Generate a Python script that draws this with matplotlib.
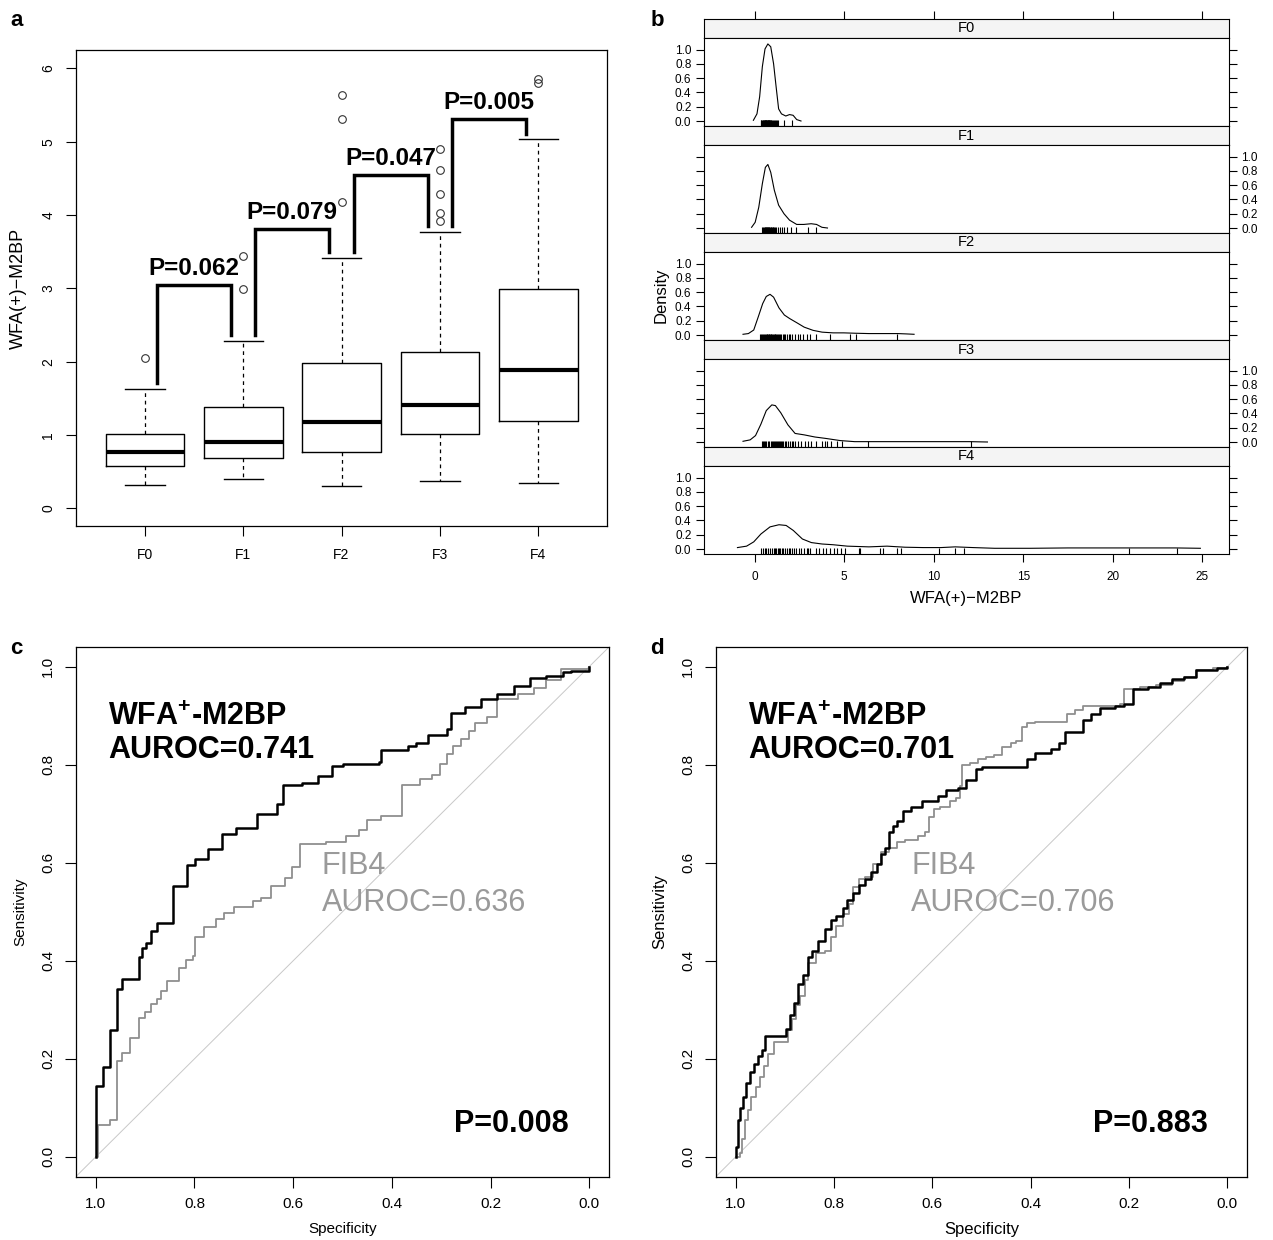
import matplotlib
matplotlib.use("Agg")
import matplotlib.pyplot as plt

plt.rcParams['font.family'] = ['Liberation Sans', 'DejaVu Sans']
plt.rcParams['mathtext.fontset'] = 'custom'
plt.rcParams['mathtext.rm'] = 'Liberation Sans'
plt.rcParams['mathtext.bf'] = 'Liberation Sans:bold'

# panel a: box summaries
groups = ['F0', 'F1', 'F2', 'F3', 'F4']
whislo = [0.32, 0.40, 0.30, 0.38, 0.35]
q1 = [0.58, 0.69, 0.77, 1.01, 1.19]
med = [0.77, 0.91, 1.18, 1.41, 1.89]
q3 = [1.02, 1.38, 1.98, 2.13, 2.99]
whishi = [1.63, 2.28, 3.42, 3.77, 5.03]
fliers = [[2.05], [2.99, 3.44], [4.18, 5.31, 5.63],
          [3.92, 4.03, 4.28, 4.62, 4.90], [5.80, 5.86]]
pair_p = ['P=0.062', 'P=0.079', 'P=0.047', 'P=0.005']
bracket_top = [3.05, 3.81, 4.55, 5.31]

# panel b: density curves and rug values
dens_x = [
    [-0.08, 0.12, 0.27, 0.42, 0.57, 0.73, 0.89, 1.05, 1.19, 1.33, 1.49, 1.73, 1.94, 2.14, 2.34, 2.58],
    [-0.18, 0.02, 0.22, 0.42, 0.59, 0.73, 0.89, 1.09, 1.33, 1.63, 1.94, 2.34, 2.74, 3.15, 3.45, 3.75, 4.06],
    [-0.66, -0.36, -0.06, 0.20, 0.44, 0.64, 0.85, 1.05, 1.35, 1.65, 1.95, 2.36, 2.76, 3.26, 3.76, 4.37,
     4.97, 5.58, 6.38, 7.19, 7.99, 8.49, 8.9],
    [-0.66, -0.26, 0.04, 0.34, 0.64, 0.95, 1.15, 1.45, 1.85, 2.25, 2.76, 3.36, 3.97, 4.77, 5.58, 6.38,
     8.39, 10.4, 12.0, 13.0],
    [-0.97, -0.46, -0.06, 0.34, 0.85, 1.35, 1.75, 2.15, 2.66, 3.16, 3.76, 4.37, 5.17, 6.38, 7.39, 8.39,
     9.4, 10.4, 11.2, 12.2, 13.4, 15.4, 17.5, 19.5, 21.5, 23.5, 24.9],
]
dens_y = [
    [0.01, 0.10, 0.34, 0.76, 1.01, 1.08, 1.04, 0.80, 0.48, 0.17, 0.10, 0.07, 0.09, 0.08, 0.02, 0.0],
    [0.01, 0.08, 0.29, 0.62, 0.85, 0.89, 0.78, 0.53, 0.32, 0.20, 0.11, 0.05, 0.05, 0.06, 0.05, 0.01, 0.0],
    [0.01, 0.02, 0.07, 0.26, 0.44, 0.54, 0.57, 0.53, 0.38, 0.28, 0.23, 0.17, 0.11, 0.065, 0.04, 0.03,
     0.03, 0.025, 0.02, 0.02, 0.02, 0.015, 0.01],
    [0.01, 0.03, 0.09, 0.25, 0.44, 0.52, 0.51, 0.41, 0.24, 0.12, 0.10, 0.07, 0.05, 0.02, 0.005, 0.005,
     0.005, 0.005, 0.005, 0.0],
    [0.02, 0.04, 0.10, 0.21, 0.31, 0.34, 0.33, 0.26, 0.14, 0.09, 0.07, 0.06, 0.04, 0.03, 0.04, 0.025,
     0.02, 0.02, 0.03, 0.02, 0.01, 0.01, 0.015, 0.015, 0.015, 0.015, 0.01],
]
rug = [
    [0.32, 0.36, 0.40, 0.44, 0.47, 0.50, 0.53, 0.55, 0.57, 0.59, 0.61, 0.63, 0.65, 0.67, 0.69, 0.71,
     0.73, 0.75, 0.77, 0.79, 0.81, 0.84, 0.87, 0.90, 0.93, 0.97, 1.01, 1.05, 1.10, 1.16, 1.22, 1.30,
     1.62, 2.05],
    [0.40, 0.45, 0.50, 0.55, 0.58, 0.62, 0.65, 0.68, 0.70, 0.73, 0.76, 0.79, 0.82, 0.85, 0.88, 0.91,
     0.95, 0.99, 1.03, 1.08, 1.13, 1.20, 1.27, 1.38, 1.50, 1.65, 1.82, 2.02, 2.28, 2.99, 3.44],
    [0.30, 0.36, 0.42, 0.48, 0.53, 0.58, 0.62, 0.66, 0.70, 0.74, 0.77, 0.80, 0.84, 0.88, 0.92, 0.96,
     1.00, 1.05, 1.10, 1.14, 1.18, 1.23, 1.28, 1.34, 1.40, 1.47, 1.55, 1.62, 1.70, 1.80, 1.90, 1.98,
     2.10, 2.25, 2.40, 2.55, 2.70, 2.90, 3.10, 3.42, 4.18, 5.31, 5.63, 7.95],
    [0.38, 0.45, 0.52, 0.58, 0.65, 0.72, 0.80, 0.88, 0.95, 1.01, 1.06, 1.12, 1.18, 1.24, 1.30, 1.36,
     1.41, 1.47, 1.53, 1.60, 1.68, 1.76, 1.85, 1.95, 2.05, 2.13, 2.25, 2.40, 2.60, 2.80, 3.00, 3.15,
     3.40, 3.77, 3.92, 4.03, 4.28, 4.62, 4.90, 6.34, 12.1],
    [0.35, 0.45, 0.55, 0.65, 0.75, 0.85, 0.95, 1.05, 1.12, 1.19, 1.27, 1.35, 1.43, 1.52, 1.60, 1.70,
     1.79, 1.89, 1.98, 2.08, 2.20, 2.32, 2.45, 2.60, 2.75, 2.90, 2.99, 3.10, 3.40, 3.60, 3.80, 4.00,
     4.20, 4.40, 4.60, 4.80, 5.03, 5.80, 5.86, 6.98, 7.19, 7.93, 8.19, 10.3, 11.17, 11.7, 20.9, 23.6],
]

# panel c: ROC (specificity, sensitivity)
c_wfa_spec = [1.0, 1.0, 0.986, 0.971, 0.956, 0.946, 0.913, 0.907, 0.898, 0.888, 0.876, 0.843, 0.816,
              0.798, 0.773, 0.744, 0.715, 0.674, 0.632, 0.620, 0.583, 0.550, 0.521, 0.500, 0.426, 0.421,
              0.368, 0.351, 0.326, 0.289, 0.281, 0.252, 0.219, 0.186, 0.153, 0.120, 0.087, 0.054, 0.037, 0.0]
c_wfa_sens = [0.0, 0.144, 0.184, 0.259, 0.342, 0.362, 0.408, 0.426, 0.437, 0.461, 0.477, 0.552, 0.596,
              0.608, 0.628, 0.659, 0.671, 0.699, 0.719, 0.758, 0.762, 0.776, 0.798, 0.802, 0.806, 0.830,
              0.838, 0.845, 0.861, 0.873, 0.905, 0.917, 0.933, 0.944, 0.960, 0.976, 0.980, 0.988, 0.992, 1.0]
c_fib_spec = [1.0, 0.996, 0.971, 0.956, 0.946, 0.930, 0.913, 0.901, 0.888, 0.876, 0.868, 0.855, 0.831,
              0.818, 0.802, 0.798, 0.781, 0.756, 0.740, 0.719, 0.682, 0.665, 0.645, 0.616, 0.603, 0.587,
              0.533, 0.492, 0.467, 0.450, 0.421, 0.380, 0.343, 0.318, 0.302, 0.289, 0.277, 0.260, 0.244,
              0.231, 0.207, 0.186, 0.145, 0.112, 0.087, 0.058, 0.0]
c_fib_sens = [0.0, 0.065, 0.075, 0.196, 0.212, 0.243, 0.283, 0.295, 0.311, 0.322, 0.338, 0.358, 0.386,
              0.402, 0.410, 0.449, 0.469, 0.485, 0.497, 0.509, 0.521, 0.529, 0.552, 0.568, 0.592, 0.639,
              0.643, 0.655, 0.667, 0.687, 0.695, 0.758, 0.770, 0.778, 0.802, 0.822, 0.838, 0.853, 0.869,
              0.885, 0.897, 0.933, 0.944, 0.956, 0.972, 0.996, 1.0]

# panel d
d_wfa_spec = [1.0, 1.0, 0.996, 0.992, 0.985, 0.980, 0.971, 0.963, 0.955, 0.947, 0.941, 0.901, 0.897,
              0.889, 0.881, 0.873, 0.864, 0.852, 0.844, 0.832, 0.819, 0.807, 0.795, 0.782, 0.774, 0.762,
              0.749, 0.737, 0.725, 0.712, 0.704, 0.696, 0.688, 0.680, 0.671, 0.659, 0.643, 0.622, 0.589,
              0.573, 0.548, 0.532, 0.511, 0.499, 0.417, 0.408, 0.392, 0.359, 0.343, 0.330, 0.310, 0.293,
              0.277, 0.260, 0.228, 0.211, 0.191, 0.162, 0.137, 0.113, 0.088, 0.063, 0.022, 0.0]
d_wfa_sens = [0.0, 0.020, 0.075, 0.099, 0.123, 0.151, 0.174, 0.190, 0.206, 0.218, 0.246, 0.246, 0.261,
              0.289, 0.313, 0.353, 0.372, 0.408, 0.420, 0.440, 0.464, 0.483, 0.491, 0.507, 0.523, 0.539,
              0.555, 0.567, 0.582, 0.598, 0.618, 0.630, 0.662, 0.674, 0.685, 0.705, 0.713, 0.725, 0.737,
              0.749, 0.753, 0.769, 0.792, 0.796, 0.796, 0.812, 0.824, 0.832, 0.844, 0.866, 0.866, 0.891,
              0.903, 0.915, 0.919, 0.923, 0.955, 0.959, 0.967, 0.975, 0.979, 0.994, 0.998, 1.0]
d_fib_spec = [1.0, 0.992, 0.988, 0.982, 0.975, 0.969, 0.959, 0.951, 0.942, 0.934, 0.922, 0.893, 0.885,
              0.877, 0.869, 0.860, 0.852, 0.836, 0.819, 0.807, 0.795, 0.782, 0.770, 0.762, 0.749, 0.737,
              0.721, 0.704, 0.688, 0.671, 0.655, 0.630, 0.614, 0.606, 0.597, 0.585, 0.565, 0.552, 0.544,
              0.540, 0.523, 0.507, 0.491, 0.474, 0.458, 0.441, 0.429, 0.417, 0.408, 0.392, 0.334, 0.326,
              0.310, 0.293, 0.252, 0.219, 0.211, 0.178, 0.145, 0.113, 0.088, 0.063, 0.030, 0.0]
d_fib_sens = [0.0, 0.008, 0.036, 0.075, 0.095, 0.123, 0.143, 0.162, 0.186, 0.210, 0.234, 0.258, 0.281,
              0.309, 0.329, 0.361, 0.396, 0.416, 0.420, 0.448, 0.471, 0.495, 0.515, 0.551, 0.567, 0.571,
              0.598, 0.622, 0.630, 0.642, 0.646, 0.654, 0.662, 0.693, 0.709, 0.713, 0.725, 0.733, 0.757,
              0.800, 0.804, 0.812, 0.816, 0.820, 0.836, 0.844, 0.848, 0.876, 0.884, 0.887, 0.887, 0.903,
              0.911, 0.919, 0.919, 0.923, 0.955, 0.959, 0.963, 0.971, 0.979, 0.994, 0.998, 1.0]

W, H = 1273, 1240
fig = plt.figure(figsize=(W / 100, H / 100), dpi=100)


def rect(l, t, r, b):
    return [l / W, 1 - b / H, (r - l) / W, (b - t) / H]


def letter(x, y, s):
    fig.text(x / W, 1 - y / H, s, fontsize=16, fontweight='bold', va='center', ha='left')


# ---------------- a ----------------
ax = fig.add_axes(rect(76, 50, 607, 526))
stats = []
for i, g in enumerate(groups):
    stats.append(dict(label=g, whislo=whislo[i], q1=q1[i], med=med[i], q3=q3[i],
                      whishi=whishi[i], fliers=fliers[i]))
ax.bxp(stats, positions=range(1, 6), widths=0.8, capwidths=0.4,
       boxprops=dict(lw=1.0, color='k'),
       medianprops=dict(lw=3, color='k'),
       whiskerprops=dict(lw=0.9, ls=(0, (3, 3)), color='k'),
       capprops=dict(lw=1.0, color='k'),
       flierprops=dict(marker='o', mfc='none', mec='#333333', ms=5.5, mew=0.8))
for i in range(4):
    lx, rx = i + 1 + 0.125, i + 2 - 0.125
    top = bracket_top[i]
    ax.plot([lx, lx, rx, rx], [whishi[i] + 0.08, top, top, whishi[i + 1] + 0.08],
            color='k', lw=2.5, solid_joinstyle='miter')
    ax.text(i + 1.5, top + 0.13, pair_p[i], ha='center', va='baseline',
            fontsize=17.5, fontweight='bold')
ax.set_xlim(0.3, 5.7)
ax.set_ylim(-0.24, 6.25)
ax.set_yticks(range(7))
ax.set_yticklabels([str(v) for v in range(7)], rotation=90, va='center')
ax.tick_params(axis='both', length=7, width=0.8, labelsize=10)
ax.tick_params(axis='x', pad=9)
ax.tick_params(axis='y', pad=8)
ax.set_ylabel('WFA(+)\u2212M2BP', fontsize=13, labelpad=10)
for s in ax.spines.values():
    s.set_linewidth(0.9)
letter(10, 20, 'a')

# ---------------- b ----------------
left_b, right_b, top_b, bottom_b = 704, 1229, 19, 554
strip_h = 19
block = (bottom_b - top_b) / 5
xlim_b = (-2.84, 26.5)
for i in range(5):
    st = top_b + i * block
    sax = fig.add_axes(rect(left_b, st, right_b, st + strip_h))
    sax.set_facecolor('#f4f4f4')
    sax.set_xlim(*xlim_b)
    sax.set_yticks([])
    sax.text(0.5, 0.5, groups[i], transform=sax.transAxes, ha='center', va='center', fontsize=10.5)
    if i == 0:
        sax.xaxis.tick_top()
        sax.set_xticks([0, 5, 10, 15, 20, 25])
        sax.set_xticklabels([])
        sax.tick_params(axis='x', direction='out', length=6, width=0.8)
    else:
        sax.set_xticks([])
    pax = fig.add_axes(rect(left_b, st + strip_h, right_b, st + block))
    pax.plot(dens_x[i], dens_y[i], color='k', lw=0.8)
    pax.vlines(rug[i], 0, 0.065, transform=pax.get_xaxis_transform(), color='k', lw=0.8)
    pax.set_xlim(*xlim_b)
    pax.set_ylim(-0.07, 1.163)
    pax.set_yticks([0, 0.2, 0.4, 0.6, 0.8, 1.0])
    pax.yaxis.set_ticks_position('both')
    if i % 2 == 0:
        pax.tick_params(axis='y', labelleft=True, labelright=False)
    else:
        pax.tick_params(axis='y', labelleft=False, labelright=True)
    pax.set_yticklabels(['0.0', '0.2', '0.4', '0.6', '0.8', '1.0'])
    pax.tick_params(axis='y', length=6, width=0.8, labelsize=8.5, pad=3)
    if i == 4:
        pax.set_xticks([0, 5, 10, 15, 20, 25])
        pax.tick_params(axis='x', length=6, width=0.8, labelsize=8.5, pad=6)
        pax.set_xlabel('WFA(+)\u2212M2BP', fontsize=12, labelpad=6)
    else:
        pax.set_xticks([])
fig.text(661 / W, 1 - 295 / H, 'Density', rotation=90, fontsize=12, ha='center', va='center')
letter(651, 20, 'b')


# ---------------- c / d ----------------
def roc_panel(l, r, wspec, wsens, fspec, fsens, auc_w, auc_f, pval, txt_x, fib_x, p_right, lab_size):
    ax = fig.add_axes(rect(l, 647, r, 1176.5))
    ax.axline((1, 0), (0, 1), color='#c8c8c8', lw=0.7)
    ax.step(fspec, fsens, where='post', color='#8f8f8f', lw=1.3)
    ax.step(wspec, wsens, where='post', color='k', lw=1.8)
    ax.set_xlim(1.04, -0.04)
    ax.set_ylim(-0.04, 1.04)
    ticks = [1.0, 0.8, 0.6, 0.4, 0.2, 0.0]
    ax.set_xticks(ticks)
    ax.set_xticklabels(['%.1f' % t for t in ticks])
    ax.set_yticks(ticks)
    ax.set_yticklabels(['%.1f' % t for t in ticks], rotation=90, va='center')
    ax.tick_params(axis='both', length=8, width=0.8, labelsize=11)
    ax.tick_params(axis='x', pad=7)
    ax.tick_params(axis='y', pad=7)
    ax.set_xlabel('Specificity', fontsize=lab_size, labelpad=8)
    ax.set_ylabel('Sensitivity', fontsize=lab_size, labelpad=10)
    for s in ax.spines.values():
        s.set_linewidth(0.9)
    fig.text(txt_x / W, 1 - 717 / H, r'WFA$^{\mathbf{+}}$-M2BP', fontsize=22, fontweight='bold',
             va='center', ha='left')
    fig.text(txt_x / W, 1 - 750 / H, auc_w, fontsize=22, fontweight='bold', va='center', ha='left')
    fig.text(fib_x / W, 1 - 866 / H, 'FIB4', fontsize=22, color='#9a9a9a', va='center', ha='left')
    fig.text(fib_x / W, 1 - 903 / H, auc_f, fontsize=22, color='#9a9a9a', va='center', ha='left')
    fig.text(p_right / W, 1 - 1124 / H, pval, fontsize=22, fontweight='bold', va='center', ha='right')


roc_panel(76, 609, c_wfa_spec, c_wfa_sens, c_fib_spec, c_fib_sens,
          'AUROC=0.741', 'AUROC=0.636', 'P=0.008', 108, 322, 569, 11)
letter(10, 648, 'c')
roc_panel(716, 1247, d_wfa_spec, d_wfa_sens, d_fib_spec, d_fib_sens,
          'AUROC=0.701', 'AUROC=0.706', 'P=0.883', 748, 911, 1208, 12)
letter(650, 648, 'd')

fig.savefig('out.png', dpi=100)
